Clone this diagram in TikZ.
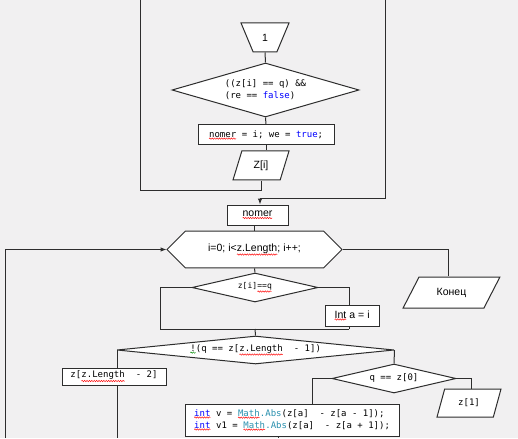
\documentclass[tikz,border=0pt]{standalone}
\usepackage{fontspec}
\setmainfont{Liberation Sans}
\newfontfamily\cmono{DejaVu Sans Mono}
\usetikzlibrary{shapes.geometric,shapes.misc,arrows.meta,decorations.pathmorphing}
\definecolor{bg}{RGB}{241,240,241}
\definecolor{kw}{RGB}{0,0,255}
\definecolor{cls}{RGB}{43,145,175}
\definecolor{ln}{RGB}{45,45,45}
\newcommand\sq[2][red]{\tikz[baseline=(sqw.base),x=1cm,y=1cm]{\node[shape=rectangle,draw=none,fill=none,inner sep=0pt,outer sep=0pt,minimum width=0pt,minimum height=0pt](sqw){#2};\draw[#1,line width=0.45pt,decorate,decoration={snake,amplitude=0.7pt,segment length=2.4pt}] ([yshift=-1.2pt]sqw.south west)--([yshift=-1.2pt]sqw.south east);}}
\begin{document}
\begin{tikzpicture}[x=1pt,y=-1pt,
 line/.style={draw=ln,line width=1pt},
 box/.style={rectangle,draw=ln,line width=1pt,fill=white,inner sep=0pt},
 dia/.style={diamond,draw=ln,line width=1pt,fill=white,inner sep=0pt},
 para/.style={trapezium,trapezium stretches=true,draw=ln,line width=1pt,fill=white,inner sep=0pt},
 code/.style={font=\cmono\fontsize{9}{12}\selectfont},
 txt/.style={font=\fontsize{10.5}{12}\selectfont},
 arr/.style={-{Latex[length=6pt,width=4.5pt]}}]
\fill[bg] (0,0) rectangle (518,438);
\useasboundingbox (0,0) rectangle (518,438);

% nodes
\node[para,trapezium left angle=67.5,trapezium right angle=67.5,shape border rotate=180,minimum width=48pt,minimum height=29pt,txt] (t1) at (265,37.5) {1};
\node[dia,aspect=3.46,minimum width=187pt,minimum height=54pt,code,align=left] (d1) at (265.5,90) {((z[i] == q) \&\&\\(re == {\color{kw}false})};
\node[box,minimum width=136pt,minimum height=20pt,code] (b1) at (266,135) {\sq{nomer} = i; we = {\color{kw}true};};
\node[para,trapezium left angle=71,trapezium right angle=109,minimum width=56pt,minimum height=29pt,txt] (p1) at (261,165.5) {Z[i]};
\node[box,minimum width=61pt,minimum height=20pt,txt] (nm) at (257.5,215) {\sq{nomer}};
\node[chamfered rectangle,chamfered rectangle xsep=43pt,chamfered rectangle ysep=12.5pt,draw=ln,line width=1pt,fill=white,inner sep=0pt,minimum width=175pt,minimum height=25pt,txt] (hx) at (254.5,249.5) {i=0; i<\sq{z.Length}; i++;};
\node[para,trapezium left angle=52,trapezium right angle=128,minimum width=97pt,minimum height=31pt,txt] (kn) at (451.5,292.5) {Конец};
\node[dia,aspect=4.34,minimum width=126pt,minimum height=29pt,font=\cmono\fontsize{8}{9}\selectfont] (d2) at (255,287.5) {z[i]\sq{==q}};
\node[box,minimum width=54pt,minimum height=21pt,txt] (ia) at (352,315.5) {\sq{Int} a = i};
\node[dia,aspect=9.9,minimum width=277pt,minimum height=28pt,code] (d3) at (255.5,350) {\sq[green!55!black]{!}(q == z[\sq{z.Length}\ \ - 1])};
\node[box,minimum width=104pt,minimum height=17pt,code] (zl) at (114,376.5) {z[\sq{z.Length}\ \ - 2]};
\node[dia,aspect=4.28,minimum width=124pt,minimum height=29pt,code] (d4) at (394,378.5) {q == z[0]};
\node[box,minimum width=214pt,minimum height=32pt,code,align=left] (iv) at (292,420) {{\color{kw}\sq{int}} v = {\color{cls}\sq{Math}.Abs}(z[a]\ \ - z[a - 1]);\\{\color{kw}\sq{int}} v1 = {\color{cls}\sq{Math}.Abs}(z[a]\ \ - z[a + 1]);};
\node[para,trapezium left angle=67,trapezium right angle=113,minimum width=64pt,minimum height=28pt,code] (z1) at (469,403) {z[1]};

% free ends
\coordinate (ltop) at (140,0);
\coordinate (rtop) at (385,0);
\coordinate (j1) at (260,198);
\coordinate (lbot) at (5,438);
\coordinate (m2l) at (160,329);
\coordinate (m2r) at (349,329);
\coordinate (m2c) at (255,329);
\coordinate (zlb) at (117,438);
\coordinate (ivb) at (278,438);

% connectors
\draw[line] (t1.south) -- (d1.north);
\draw[line] (d1.south) -- (b1.north);
\draw[line] (b1.south) -- (b1.south |- p1.north);
\draw[line] (p1.south) -- ++(0,10) -| (ltop);
\draw[line] (rtop) |- (j1);
\draw[line,arr] (j1) -- (j1 |- nm.north);
\draw[line] (hx.north |- nm.south) -- (hx.north);
\draw[line,arr] (lbot) |- (hx.west);
\draw[line] (hx.east) -| ([xshift=-3.5pt]kn.north);
\draw[line] (hx.south) -- (d2.north);
\draw[line] (d2.west) -| (m2l) -- (m2r);
\draw[line] (d2.east) -| ([xshift=-3pt]ia.north);
\draw[line] ([xshift=-3pt]ia.south) -- (m2r);
\draw[line] (m2c) -- (d3.north);
\draw[line] (d3.west) -| ([xshift=3pt]zl.north);
\draw[line] ([xshift=3pt]zl.south) -- (zlb);
\draw[line] (d3.east) -- (d4.north);
\draw[line] (d4.west) -| ([xshift=20pt]iv.north);
\draw[line] (iv.south -| ivb) -- (ivb);
\draw[line] (d4.east) -| ([xshift=2pt]z1.north);
\end{tikzpicture}
\end{document}
